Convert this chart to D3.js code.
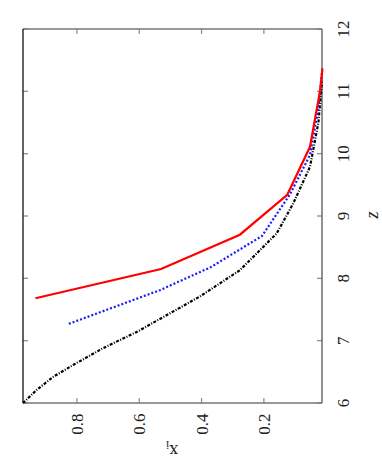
<!DOCTYPE html>
<html>
<head>
<meta charset="utf-8">
<script src="https://cdn.jsdelivr.net/npm/d3@7"></script>
<style>
  body { margin: 0; background: #fff; }
  text { font-family: "Liberation Serif", "DejaVu Serif", serif; fill: #222; }
</style>
</head>
<body>
<div id="chart"></div>
<script>
// figure is a gnuplot plot turned 90deg: z runs up, x_i runs right-to-left
var width = 382;
var height = 474;

var zTicks = [6, 7, 8, 9, 10, 11, 12];
var xiTicks = [0.8, 0.6, 0.4, 0.2];

// red solid
var redZ = [7.68, 8.15, 8.70, 9.34, 10.11, 11.00, 11.37];
var redXi = [0.933, 0.530, 0.277, 0.125, 0.052, 0.020, 0.012];

// blue dotted
var blueZ = [7.27, 7.81, 8.18, 8.68, 9.35, 9.98, 10.70, 11.31];
var blueXi = [0.826, 0.534, 0.370, 0.206, 0.116, 0.052, 0.026, 0.013];

// black dash-dot
var blackZ = [6.00, 6.21, 6.42, 6.61, 6.88, 7.14, 7.44, 7.71, 8.13, 8.72, 9.20, 9.79, 10.50, 11.18];
var blackXi = [0.973, 0.929, 0.876, 0.812, 0.716, 0.608, 0.501, 0.405, 0.277, 0.159, 0.106, 0.052, 0.025, 0.013];

var plotL = 23, plotR = 322, plotT = 29, plotB = 403;

var svg = d3.select('#chart')
  .append('svg')
  .attr('width', width)
  .attr('height', height)

var xScale = d3.scaleLinear()
  .domain([0.973, 0.0135])
  .range([plotL, plotR])

var zScale = d3.scaleLinear()
  .domain([6, 12])
  .range([plotB, plotT])

// ticks, mirrored on both sides of the frame
var tickLen = 5;
var tickColor = '#888';

zTicks.forEach(t => {
  var y = zScale(t);
  svg.append('line').attr('x1', plotL).attr('x2', plotL + tickLen)
    .attr('y1', y).attr('y2', y).attr('stroke', tickColor).attr('stroke-width', 1.2)
  svg.append('line').attr('x1', plotR).attr('x2', plotR - tickLen)
    .attr('y1', y).attr('y2', y).attr('stroke', tickColor).attr('stroke-width', 1.2)
  svg.append('text')
    .attr('transform', `translate(343, ${y}) rotate(-90)`)
    .attr('text-anchor', 'middle')
    .attr('dy', '0.35em')
    .style('font-size', '17px')
    .text(t)
})

xiTicks.forEach(t => {
  var x = xScale(t);
  svg.append('line').attr('x1', x).attr('x2', x)
    .attr('y1', plotB).attr('y2', plotB - tickLen).attr('stroke', tickColor).attr('stroke-width', 1.2)
  svg.append('line').attr('x1', x).attr('x2', x)
    .attr('y1', plotT).attr('y2', plotT + tickLen).attr('stroke', tickColor).attr('stroke-width', 1.2)
  svg.append('text')
    .attr('transform', `translate(${x}, 424) rotate(-90)`)
    .attr('text-anchor', 'middle')
    .attr('dy', '0.35em')
    .style('font-size', '17px')
    .text(d3.format('.1f')(t))
})

// frame
svg.append('line').attr('x1', plotL).attr('x2', plotR).attr('y1', plotT).attr('y2', plotT)
  .attr('stroke', '#777').attr('stroke-width', 1.3)
svg.append('line').attr('x1', plotL).attr('x2', plotR).attr('y1', plotB).attr('y2', plotB)
  .attr('stroke', '#777').attr('stroke-width', 1.3)
svg.append('line').attr('x1', plotL).attr('x2', plotL).attr('y1', plotT).attr('y2', plotB)
  .attr('stroke', '#111').attr('stroke-width', 1.3)
svg.append('line').attr('x1', plotR).attr('x2', plotR).attr('y1', plotT).attr('y2', plotB)
  .attr('stroke', '#555').attr('stroke-width', 1.3)

var line = d3.line()
  .x(d => xScale(d.xi))
  .y(d => zScale(d.z))

function pairs(zs, xis) {
  return zs.map((z, i) => ({ z: z, xi: xis[i] }))
}

svg.append('path')
  .datum(pairs(blackZ, blackXi))
  .attr('d', line)
  .attr('fill', 'none')
  .attr('stroke', '#000')
  .attr('stroke-width', 2.2)
  .attr('stroke-dasharray', '3,1.5,1,1.5')

svg.append('path')
  .datum(pairs(blueZ, blueXi))
  .attr('d', line)
  .attr('fill', 'none')
  .attr('stroke', '#1a1aff')
  .attr('stroke-width', 2.2)
  .attr('stroke-dasharray', '2,2')

svg.append('path')
  .datum(pairs(redZ, redXi))
  .attr('d', line)
  .attr('fill', 'none')
  .attr('stroke', '#f00')
  .attr('stroke-width', 2.2)

// axis titles
svg.append('text')
  .attr('transform', 'translate(372, 215) rotate(-90)')
  .attr('text-anchor', 'middle')
  .attr('dy', '0.35em')
  .style('font-size', '18px')
  .style('font-style', 'italic')
  .text('z')

var xiLabel = svg.append('text')
  .attr('transform', 'translate(172, 451) rotate(180)')
  .attr('text-anchor', 'middle')
  .attr('dy', '0.35em')
  .style('font-size', '18px')
xiLabel.append('tspan').text('x')
xiLabel.append('tspan').attr('dy', '4').style('font-size', '12px').text('i')
</script>
</body>
</html>
